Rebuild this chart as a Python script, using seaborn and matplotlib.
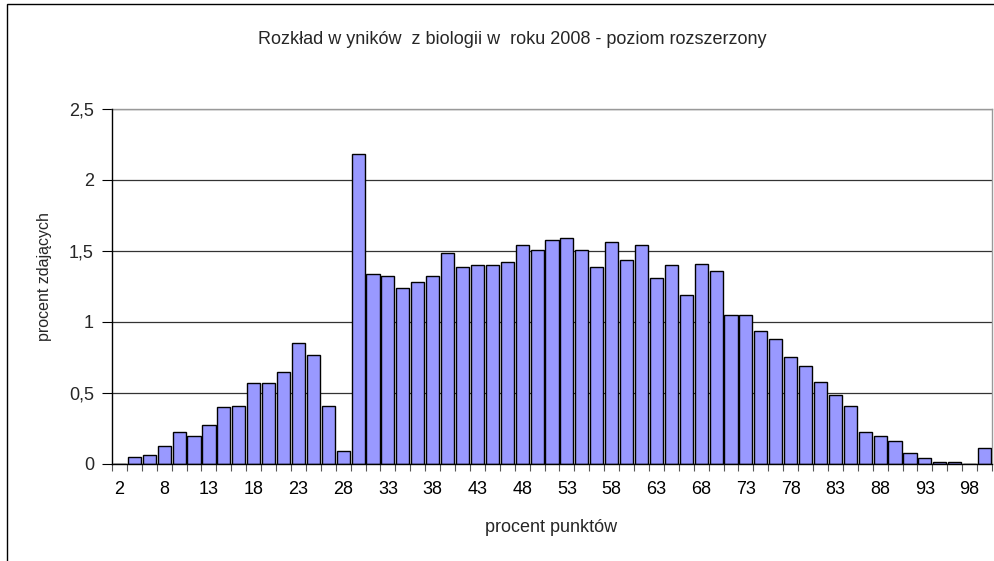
import matplotlib
matplotlib.use("Agg")
import matplotlib.pyplot as plt
import seaborn as sns
import pandas as pd
from matplotlib.patches import Rectangle
from matplotlib.ticker import FixedLocator

# ---- data ----
category_index = list(range(59))
percent_students = [
    0.0, 0.05, 0.065, 0.13, 0.225, 0.2, 0.275, 0.4, 0.41, 0.57,
    0.57, 0.65, 0.855, 0.77, 0.41, 0.09, 2.18, 1.335, 1.325, 1.24,
    1.285, 1.325, 1.485, 1.385, 1.4, 1.4, 1.425, 1.545, 1.51, 1.58,
    1.595, 1.51, 1.385, 1.56, 1.435, 1.545, 1.31, 1.4, 1.19, 1.41,
    1.36, 1.05, 1.05, 0.94, 0.88, 0.755, 0.69, 0.575, 0.485, 0.41,
    0.225, 0.2, 0.165, 0.08, 0.04, 0.015, 0.015, 0.0, 0.115,
]
xtick_labels = ["2", "8", "13", "18", "23", "28", "33", "38", "43", "48",
                "53", "58", "63", "68", "73", "78", "83", "88", "93", "98"]
ytick_values = [0, 0.5, 1, 1.5, 2, 2.5]
ytick_labels = ["0", "0,5", "1", "1,5", "2", "2,5"]
title = "Rozkład w yników  z biologii w  roku 2008 - poziom rozszerzony"
xlabel = "procent punktów"
ylabel = "procent zdających"

df = pd.DataFrame({"kat": category_index, "proc": percent_students})

sns.set_theme(style="white")
plt.rcParams["font.family"] = ["Liberation Sans", "DejaVu Sans"]

W, H = 994, 561
fig = plt.figure(figsize=(W / 100, H / 100), dpi=100)
fig.patch.set_facecolor("white")
ax = fig.add_axes([112 / W, 1 - 464 / H, (992 - 112) / W, (464 - 109) / H])

sns.barplot(data=df, x="kat", y="proc", ax=ax, color="#9999FF", saturation=1,
            edgecolor="black", linewidth=1.0, width=0.88, errorbar=None,
            zorder=3)

ax.set_xlim(-0.5, len(category_index) - 0.5)
ax.set_ylim(0, 2.5)
ax.set_yticks(ytick_values)
ax.set_yticklabels(ytick_labels, fontsize=13)
ax.set_xticks(category_index[0:58:3])
ax.set_xticklabels(xtick_labels, fontsize=13)
ax.xaxis.set_minor_locator(FixedLocator([i - 0.5 for i in range(len(category_index) + 1)]))
ax.tick_params(axis="x", which="major", length=0, pad=12, colors="black")
ax.tick_params(axis="x", which="minor", length=5, width=0.8, color="#555555", direction="out", bottom=True)
ax.tick_params(axis="y", which="major", length=7, width=0.8, color="black", direction="out", left=True, pad=6)
ax.set_xlabel("")
ax.set_ylabel("")

ax.yaxis.grid(True, color="#333333", linewidth=0.9, zorder=0)
ax.set_axisbelow(True)
for s in ["left", "bottom"]:
    ax.spines[s].set_color("black")
    ax.spines[s].set_linewidth(1.0)
    ax.spines[s].set_zorder(4)
for s in ["right", "top"]:
    ax.spines[s].set_color("#999999")
    ax.spines[s].set_linewidth(1.0)
    ax.spines[s].set_visible(True)

fig.text(512 / W, 1 - 40 / H, title, ha="center", va="center", fontsize=13)
fig.text(551 / W, 1 - 528 / H, xlabel, ha="center", va="center", fontsize=13)
fig.text(45 / W, 1 - 277 / H, ylabel, ha="center", va="center", rotation=90, fontsize=11.5)

fig.patches.append(Rectangle((7 / W, -0.1), 2.0, 1.1 - 4 / H, transform=fig.transFigure,
                             fill=False, edgecolor="black", linewidth=1.0, clip_on=False))

fig.savefig("out.png", dpi=100, facecolor="white")
